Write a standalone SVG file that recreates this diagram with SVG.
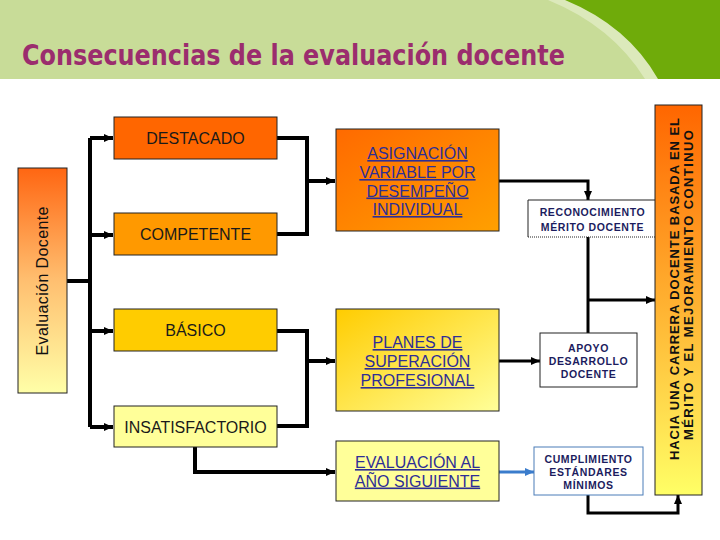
<svg xmlns="http://www.w3.org/2000/svg" width="720" height="540" viewBox="0 0 720 540">
<defs>
<linearGradient id="gLeft" x1="0" y1="0" x2="0" y2="1"><stop offset="0" stop-color="#ff6612"/><stop offset="0.5" stop-color="#ffbf70"/><stop offset="1" stop-color="#ffffa8"/></linearGradient>
<linearGradient id="gRight" x1="0" y1="0" x2="0" y2="1"><stop offset="0" stop-color="#ff6600"/><stop offset="0.5" stop-color="#ffb030"/><stop offset="1" stop-color="#ffff66"/></linearGradient>
<linearGradient id="gAsig" x1="0" y1="0" x2="1" y2="1"><stop offset="0" stop-color="#ff6a00"/><stop offset="1" stop-color="#ffa000"/></linearGradient>
<linearGradient id="gPlan" x1="0" y1="0" x2="1" y2="1"><stop offset="0" stop-color="#ffcc00"/><stop offset="1" stop-color="#ffff99"/></linearGradient>
<marker id="ah" markerUnits="userSpaceOnUse" markerWidth="9" markerHeight="8" refX="9" refY="4" orient="auto"><path d="M0,0 L9,4 L0,8 z" fill="#000"/></marker>
<marker id="ahb" markerUnits="userSpaceOnUse" markerWidth="9" markerHeight="8" refX="9" refY="4" orient="auto"><path d="M0,0 L9,4 L0,8 z" fill="#3a7ccc"/></marker>
<style>
.lvl{font-family:"Liberation Sans",Arial,sans-serif;font-size:16px;fill:#1a1a1a;text-anchor:middle}
.lnk{font-family:"Liberation Sans",Arial,sans-serif;font-size:16px;fill:#2e2e96;text-anchor:middle;text-decoration:underline}
.sm{font-family:"Liberation Sans",Arial,sans-serif;font-size:10.5px;font-weight:bold;fill:#1c1c5e;text-anchor:middle;letter-spacing:0.6px}
.vt{font-family:"Liberation Sans",Arial,sans-serif;font-weight:bold;font-size:13px;fill:#111;text-anchor:middle}
.bx{stroke:#222;stroke-width:1}
.c4{fill:none;stroke:#000;stroke-width:4}
.c3{fill:none;stroke:#000;stroke-width:3}
</style>
</defs>
<rect width="720" height="540" fill="#fff"/>
<g id="header">
<rect x="0" y="0" width="720" height="79" fill="#c8dc98"/>
<path d="M548,0 Q612,26 645,79 L720,79 L720,0 Z" fill="#dce9bb"/>
<path d="M565,0 Q628,26 658,79 L720,79 L720,0 Z" fill="#6fab0a"/>
<text x="22" y="65" font-family="DejaVu Sans Condensed, DejaVu Sans, sans-serif" font-size="29" font-weight="bold" fill="#9b2d6e" textLength="543" lengthAdjust="spacingAndGlyphs">Consecuencias de la evaluación docente</text>
</g>
<g id="connectors">
<path class="c4" d="M67,281 H90"/>
<path class="c4" d="M90,138 V427"/>
<path class="c4" d="M90,138 H113" marker-end="url(#ah)"/>
<path class="c4" d="M90,235 H113" marker-end="url(#ah)"/>
<path class="c4" d="M90,331 H113" marker-end="url(#ah)"/>
<path class="c4" d="M90,427 H113" marker-end="url(#ah)"/>
<path class="c4" d="M277,138 H307 V234 H277"/>
<path class="c4" d="M307,181 H335" marker-end="url(#ah)"/>
<path class="c4" d="M277,331 H307 V426 H277"/>
<path class="c4" d="M307,361 H335" marker-end="url(#ah)"/>
<path class="c4" d="M195,447 V472 H335" marker-end="url(#ah)"/>
<path class="c3" d="M499,181 H588 V200" marker-end="url(#ah)"/>
<path class="c3" d="M588,237 V333"/>
<path class="c3" d="M588,300 H655" marker-end="url(#ah)"/>
<path class="c3" d="M499,361 H540" marker-end="url(#ah)"/>
<path d="M499,472 H534" fill="none" stroke="#3a7ccc" stroke-width="3" marker-end="url(#ahb)"/>
<path class="c3" d="M588,495 V513 H678 V495" marker-end="url(#ah)"/>
</g>
<g id="evaluacion">
<rect class="bx" x="18" y="168" width="49" height="225" fill="url(#gLeft)"/>
<text transform="translate(48,281) rotate(-90)" font-family="Liberation Sans, Arial, sans-serif" font-size="16" fill="#111" text-anchor="middle" textLength="149">Evaluación Docente</text>
</g>
<g id="destacado"><rect class="bx" x="114" y="117" width="163" height="42" fill="#ff6600"/><text class="lvl" x="195.5" y="144">DESTACADO</text></g>
<g id="competente"><rect class="bx" x="114" y="213" width="163" height="42" fill="#ff9900"/><text class="lvl" x="195.5" y="240">COMPETENTE</text></g>
<g id="basico"><rect class="bx" x="114" y="309" width="163" height="42" fill="#ffcc00"/><text class="lvl" x="195.5" y="336">BÁSICO</text></g>
<g id="insatisfactorio"><rect class="bx" x="114" y="406" width="163" height="41" fill="#ffff99"/><text class="lvl" x="195.5" y="433">INSATISFACTORIO</text></g>
<g id="asignacion"><rect class="bx" x="336" y="129" width="163" height="102" fill="url(#gAsig)"/>
<text class="lnk" x="417.5" y="159">ASIGNACIÓN</text><text class="lnk" x="417.5" y="178">VARIABLE POR</text><text class="lnk" x="417.5" y="196.5">DESEMPEÑO</text><text class="lnk" x="417.5" y="215">INDIVIDUAL</text></g>
<g id="planes"><rect class="bx" x="336" y="309" width="163" height="102" fill="url(#gPlan)"/>
<text class="lnk" x="417.5" y="348">PLANES DE</text><text class="lnk" x="417.5" y="367">SUPERACIÓN</text><text class="lnk" x="417.5" y="386">PROFESIONAL</text></g>
<g id="evaluacion-siguiente"><rect class="bx" x="336" y="441" width="163" height="60" fill="#ffff99"/>
<text class="lnk" x="417.5" y="468">EVALUACIÓN AL</text><text class="lnk" x="417.5" y="486.5">AÑO SIGUIENTE</text></g>
<g id="reconocimiento"><rect x="528" y="200" width="129" height="37" fill="#fff"/>
<path d="M528,237 V200 H657 V237" fill="none" stroke="#222" stroke-width="1"/>
<path d="M528,237 H657" stroke="#222" stroke-width="1" stroke-dasharray="1,1"/>
<text class="sm" x="592.5" y="216">RECONOCIMIENTO</text><text class="sm" x="592.5" y="231">MÉRITO DOCENTE</text></g>
<g id="apoyo"><rect class="bx" x="540" y="333" width="97" height="54" fill="#fff"/>
<text class="sm" x="588.5" y="352">APOYO</text><text class="sm" x="588.5" y="365">DESARROLLO</text><text class="sm" x="588.5" y="378">DOCENTE</text></g>
<g id="cumplimiento"><rect x="534" y="447" width="109" height="48" fill="#fff" stroke="#4a7cb8" stroke-width="1"/>
<text class="sm" x="588.5" y="463">CUMPLIMIENTO</text><text class="sm" x="588.5" y="476">ESTÁNDARES</text><text class="sm" x="588.5" y="489">MÍNIMOS</text></g>
<g id="carrera"><rect class="bx" x="655" y="105" width="47" height="390" fill="url(#gRight)"/>
<text class="vt" transform="translate(679,289) rotate(-90)" textLength="342">HACIA UNA CARRERA DOCENTE BASADA EN EL</text>
<text class="vt" transform="translate(693,285) rotate(-90)" textLength="310">MÉRITO Y EL MEJORAMIENTO CONTINUO</text></g>
</svg>
